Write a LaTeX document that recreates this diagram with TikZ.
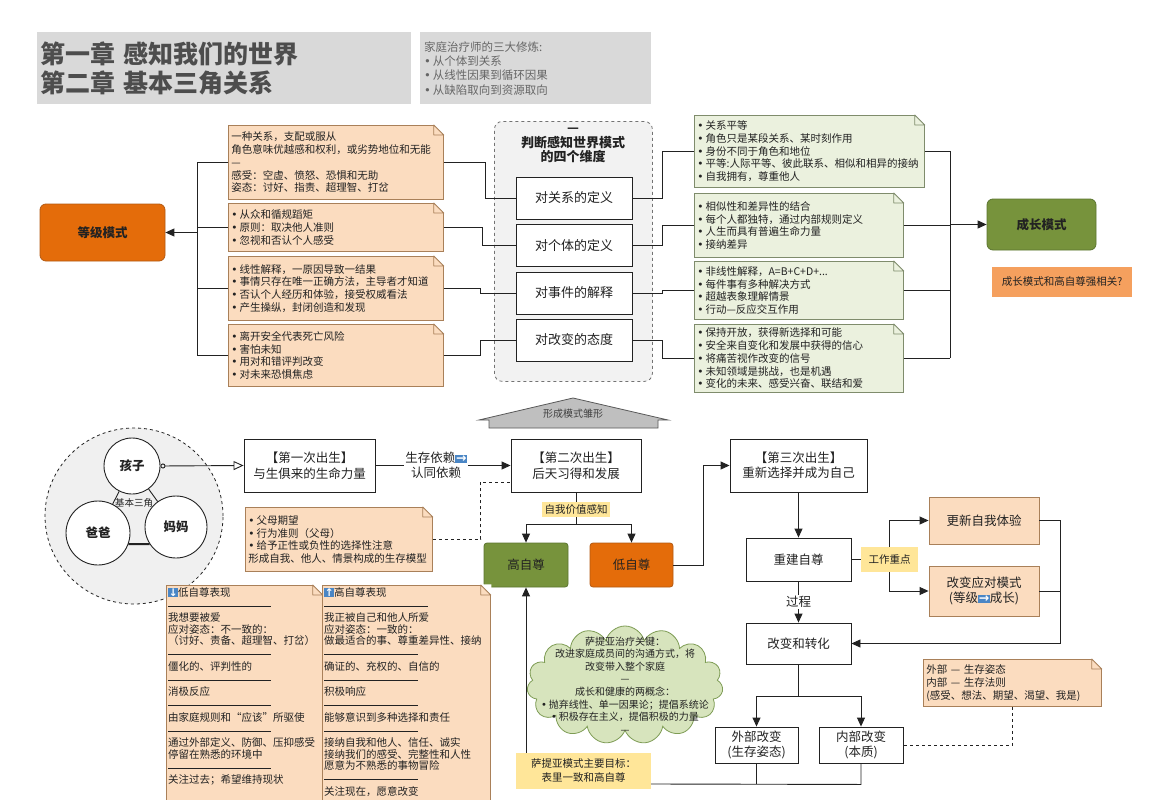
\documentclass[tikz,border=0pt]{standalone}
\usepackage{fontspec}
\setmainfont{Noto Sans CJK SC}
\newfontfamily\symfont{DejaVu Sans}
\usetikzlibrary{arrows.meta,positioning,shapes.geometric,shapes.symbols}

\definecolor{notefill}{HTML}{FBDCBF}
\definecolor{notedraw}{HTML}{A98059}
\definecolor{gnotefill}{HTML}{EBF1DE}
\definecolor{gnotedraw}{HTML}{7F8C6C}
\definecolor{rankorange}{HTML}{E46C0A}
\definecolor{rankdraw}{HTML}{B35A12}
\definecolor{growgreen}{HTML}{77933C}
\definecolor{growdraw}{HTML}{5B7530}
\definecolor{hintorange}{HTML}{F5A05E}
\definecolor{tagyellow}{HTML}{FFE699}
\definecolor{headgray}{HTML}{D9D9D9}
\definecolor{headtext}{HTML}{4D4D4D}
\definecolor{framegray}{HTML}{F2F2F2}
\definecolor{roofgray}{HTML}{BFBFBF}
\definecolor{cloudfill}{HTML}{D7E4BD}
\definecolor{clouddraw}{HTML}{7E9C55}
\definecolor{iconblue}{HTML}{4A86C5}
\definecolor{ink}{HTML}{222222}

\newcommand{\iconarrow}[1]{{\setlength{\fboxsep}{0.6pt}\colorbox{iconblue}{\textcolor{white}{\symfont\bfseries #1}}}}
\newcommand{\bul}{{\symfont\char"2022}\hspace{2pt}}
\newcommand{\sepline}[1]{\rule[3.5pt]{#1pt}{0.6pt}}
\newcommand{\notefont}{\fontsize{10.5}{12.7}\selectfont}
\newcommand{\foldnote}[2]{%
  \fill[white] ([xshift=-10.6pt,yshift=0.6pt]#1.north east) -- ([xshift=0.6pt,yshift=0.6pt]#1.north east) -- ([xshift=0.6pt,yshift=-10.6pt]#1.north east) -- cycle;
  \draw[#2, line width=0.8pt, line join=round] ([xshift=-10pt]#1.north east) -- ([yshift=-10pt]#1.north east) -- ([xshift=-10pt,yshift=-10pt]#1.north east) -- cycle;}

\begin{document}
\begin{tikzpicture}[
    x=1pt, y=-1pt,
    every node/.style={text=ink},
    conn/.style={draw=ink, line width=0.9pt},
    headbox/.style={fill=headgray, anchor=north west, align=left, inner xsep=3pt, text=headtext},
    notebox/.style={draw=notedraw, fill=notefill, line width=0.8pt, anchor=north west, align=left, inner xsep=3pt, inner ysep=2pt, font=\notefont},
    gnotebox/.style={notebox, draw=gnotedraw, fill=gnotefill},
    modebox/.style={rounded corners=6pt, line width=0.8pt, font=\fontsize{12.5}{15}\selectfont\bfseries},
    dimbox/.style={draw=ink, fill=white, line width=0.9pt, minimum width=116, minimum height=42, font=\fontsize{13}{15}\selectfont},
    stagebox/.style={draw=ink, fill=white, line width=0.9pt, align=center, font=\fontsize{12.5}{15.5}\selectfont},
    pbox/.style={stagebox, draw=notedraw, fill=notefill},
    tagbox/.style={fill=tagyellow, inner sep=2.5pt, font=\fontsize{10.5}{12}\selectfont},
    peoplenode/.style={circle, draw=ink, fill=white, line width=0.9pt, inner sep=0pt, font=\fontsize{12.5}{14}\selectfont\bfseries},
    >={Triangle[length=9pt,width=8pt]}
]
    \useasboundingbox (0,0) rectangle (1154,800);
    \fill[white] (0,0) rectangle (1154,800);

    \node[headbox, text width=368, minimum height=72, font=\fontsize{25}{29}\selectfont\bfseries] (title) at (37,32) {第一章 感知我们的世界\\第二章 基本三角关系};
    \node[headbox, text width=223, minimum height=72, inner xsep=4pt, text=black!60, font=\fontsize{11.5}{14.4}\selectfont] (trio) at (420,32) {家庭治疗师的三大修炼:\\\bul 从个体到关系\\\bul 从线性因果到循环因果\\\bul 从缺陷取向到资源取向};

    \node[modebox, fill=rankorange, draw=rankdraw, minimum width=125, minimum height=57] (rank) at (102.5,232.5) {等级模式};
    \node[modebox, fill=growgreen, draw=growdraw, minimum width=109, minimum height=51] (grow) at (1041.5,224.5) {成长模式};
    \node[fill=hintorange, minimum width=140, minimum height=30, font=\fontsize{10.5}{12}\selectfont] (hint) at (1062,282) {成长模式和高自尊强相关?};

    \node[draw=black!55, dashed, fill=framegray, rounded corners=8pt, line width=0.8pt, minimum width=158, minimum height=260, anchor=north west] (frame) at (494,121) {};
    \node[font=\fontsize{13}{14}\selectfont\bfseries] (framedash) at (573,130) {—};
    \node[align=center, font=\fontsize{13}{14}\selectfont\bfseries] (frametitle) at (573,150) {判断感知世界模式\\的四个维度};
    \node[dimbox] (rel) at (574,198) {对关系的定义};
    \node[dimbox] (ind) at (574,245.5) {对个体的定义};
    \node[dimbox] (evt) at (574,293) {对事件的解释};
    \node[dimbox] (chg) at (574,340) {对改变的态度};

    \node[notebox, text width=209, minimum height=74] (ln1) at (228,125) {一种关系，支配或服从\\角色意味优越感和权利，或劣势地位和无能\\—\\感受：空虚、愤怒、恐惧和无助\\姿态：讨好、指责、超理智、打岔};
    \foldnote{ln1}{notedraw}
    \node[notebox, text width=209, minimum height=48] (ln2) at (228,203) {\bul 从众和循规蹈矩\\\bul 原则：取决他人准则\\\bul 忽视和否认个人感受};
    \foldnote{ln2}{notedraw}
    \node[notebox, text width=209, minimum height=64] (ln3) at (228,256) {\bul 线性解释，一原因导致一结果\\\bul 事情只存在唯一正确方法，主导者才知道\\\bul 否认个人经历和体验，接受权威看法\\\bul 产生操纵，封闭创造和发现};
    \foldnote{ln3}{notedraw}
    \node[notebox, text width=209, minimum height=62] (ln4) at (228,324) {\bul 离开安全代表死亡风险\\\bul 害怕未知\\\bul 用对和错评判改变\\\bul 对未来恐惧焦虑};
    \foldnote{ln4}{notedraw}

    \node[gnotebox, text width=224, minimum height=72] (rn1) at (694,115) {\bul 关系平等\\\bul 角色只是某段关系、某时刻作用\\\bul 身份不同于角色和地位\\\bul 平等:人际平等、彼此联系、相似和相异的接纳\\\bul 自我拥有，尊重他人};
    \foldnote{rn1}{gnotedraw}
    \node[gnotebox, text width=203, minimum height=64] (rn2) at (694,193) {\bul 相似性和差异性的结合\\\bul 每个人都独特，通过内部规则定义\\\bul 人生而具有普遍生命力量\\\bul 接纳差异};
    \foldnote{rn2}{gnotedraw}
    \node[gnotebox, text width=203, minimum height=58] (rn3) at (694,261) {\bul 非线性解释，A=B+C+D+...\\\bul 每件事有多种解决方式\\\bul 超越表象理解情景\\\bul 行动—反应交互作用};
    \foldnote{rn3}{gnotedraw}
    \node[gnotebox, text width=203, minimum height=68] (rn4) at (694,324) {\bul 保持开放，获得新选择和可能\\\bul 安全来自变化和发展中获得的信心\\\bul 将痛苦视作改变的信号\\\bul 未知领域是挑战，也是机遇\\\bul 变化的未来、感受兴奋、联结和爱};
    \foldnote{rn4}{gnotedraw}

    \coordinate (lbtop) at (197,162);
    \coordinate (lbbot) at (197,355);
    \draw[conn] (lbtop) -- (lbbot);
    \foreach \n in {ln1,ln2,ln3,ln4}
        \draw[conn] (\n.west) -- (\n.west -| lbtop);
    \draw[conn,->] (rank.east -| lbtop) -- (rank.east);

    \draw[conn] (ln1.east) -- ++(42,0) |- (rel.west);
    \draw[conn] (ln2.east) -- ++(39,0) |- (ind.west);
    \draw[conn] (ln3.east) -- ++(37,0) |- (evt.west);
    \draw[conn] (ln4.east) -- ++(37,0) |- (chg.west);
    \draw[conn] (rel.east) -- ++(30,0) |- (rn1.west);
    \draw[conn] (ind.east) -- ++(30,0) |- (rn2.west);
    \draw[conn] (evt.east) -- ++(30,0) |- (rn3.west);
    \draw[conn] (chg.east) -- ++(30,0) |- (rn4.west);

    \coordinate (rbtop) at (950,151);
    \coordinate (rbbot) at (950,358);
    \draw[conn] (rbtop) -- (rbbot);
    \foreach \n in {rn1,rn2,rn3,rn4}
        \draw[conn] (\n.east) -- (\n.east -| rbtop);
    \draw[conn,->] (grow.west -| rbtop) -- (grow.west);

    \draw[draw=black!65, fill=roofgray, line width=0.8pt] (489,428) -- (489,420) -- (479,420) -- (573,398) -- (668,420) -- (658,420) -- (658,428) -- cycle;
    \node[text=black!75, font=\fontsize{10}{12}\selectfont] (seed) at (573,414) {形成模式雏形};

    \node[ellipse, draw=ink, dashed, fill=black!6, line width=0.8pt, minimum width=178, minimum height=176] (tri) at (134,516) {};
    \node[peoplenode, minimum size=56] (kid) at (132,466) {孩子};
    \node[peoplenode, minimum size=64] (dad) at (98,533) {爸爸};
    \node[peoplenode, minimum size=62] (mom) at (176,527) {妈妈};
    \draw[conn] (kid) -- (dad);
    \draw[conn] (kid) -- (mom);
    \draw[conn, line width=2pt] (dad.-20) -- (mom.213);
    \node[font=\fontsize{9.5}{11}\selectfont] (trilabel) at (134,503) {基本三角};

    \node[stagebox, minimum width=131, minimum height=53] (b1) at (309.5,465.5) {【第一次出生】\\与生俱来的生命力量};
    \node[stagebox, minimum width=130, minimum height=53] (b2) at (576,465.5) {【第二次出生】\\后天习得和发展};
    \node[stagebox, minimum width=137, minimum height=53] (b3) at (798.5,465.5) {【第三次出生】\\重新选择并成为自己};
    \draw[conn, {Circle[open,length=5pt,width=5pt]}-{Triangle[open,length=10pt,width=9pt]}] (kid.east) -- (b1.west);
    \draw[conn,->] (b1) -- node[pos=0.45, fill=white, inner sep=1pt, align=center, font=\fontsize{12.5}{15}\selectfont] (dep) {生存依赖\iconarrow{→}\\认同依赖} (b2);

    \node[notebox, text width=181, minimum height=64] (pn) at (245,507) {\bul 父母期望\\\bul 行为准则（父母）\\\bul 给予正性或负性的选择性注意\\形成自我、他人、情景构成的生存模型};
    \foldnote{pn}{notedraw}
    \draw[conn, dashed] (pn.east) -- ++(48,0) |- ([yshift=-16.5pt]b2.west);

    \node[tagbox] (sw) at (576,509.5) {自我价值感知};
    \coordinate (fork1) at (576,524);
    \node[modebox, rounded corners=3pt, fill=growgreen, draw=growdraw, minimum width=84, minimum height=44, font=\fontsize{12.5}{15}\selectfont] (hi) at (526,565) {高自尊};
    \node[modebox, rounded corners=3pt, fill=rankorange, draw=rankdraw, minimum width=83, minimum height=44, font=\fontsize{12.5}{15}\selectfont] (lo) at (631.5,565) {低自尊};
    \draw[conn] (b2) -- (sw);
    \draw[conn] (sw) -- (fork1);
    \draw[conn,->] (fork1) -| (hi);
    \draw[conn,->] (fork1) -| (lo);
    \draw[conn,->] (lo.east) -- ++(30,0) |- (b3.west);

    \node[stagebox, minimum width=105, minimum height=43] (rb) at (798.5,559.5) {重建自尊};
    \node[tagbox, minimum width=57, minimum height=25] (wk) at (889.5,559.5) {工作重点};
    \node[pbox, minimum width=110, minimum height=47] (up) at (984,520.5) {更新自我体验};
    \node[pbox, minimum width=110, minimum height=50] (cp) at (984,591) {改变应对模式\\(等级\iconarrow{→}成长)};
    \node[stagebox, minimum width=105, minimum height=41] (ct) at (798.5,643.5) {改变和转化};
    \draw[conn,->] (b3) -- (rb);
    \draw[conn] (rb) -- (wk);
    \draw[conn,->] (wk.north) |- (up);
    \draw[conn,->] (wk.south) |- (cp);
    \coordinate (rj) at (1060,643.5);
    \draw[conn] (up.east) -| (rj);
    \draw[conn] (cp.east) -- (cp.east -| rj);
    \draw[conn,->] (rj) -- (ct);
    \draw[conn,->] (rb) -- node[fill=white, inner sep=1.5pt, font=\fontsize{12.5}{15}\selectfont] (proc) {过程} (ct);

    \node[stagebox, minimum width=83, minimum height=36] (outer) at (756.5,745) {外部改变\\(生存姿态)};
    \node[stagebox, minimum width=84, minimum height=36] (inner) at (861,745) {内部改变\\(本质)};
    \coordinate (fork2) at (798.5,696);
    \draw[conn] (ct) -- (fork2);
    \draw[conn,->] (fork2) -| (outer);
    \draw[conn,->] (fork2) -| (inner);

    \node[notebox, text width=172, minimum height=47] (vis) at (923,659) {外部 — 生存姿态\\内部 — 生存法则\\(感受、想法、期望、渴望、我是)};
    \foldnote{vis}{notedraw}
    \draw[conn, dashed] (vis.south) |- (inner.east);

    \node[tagbox, minimum width=135, minimum height=36, align=center, font=\fontsize{10.5}{14}\selectfont] (goal) at (583.5,771) {萨提亚模式主要目标：\\表里一致和高自尊};
    \draw[conn] (inner.south) -- ++(0,21) -- ([yshift=-13pt]goal.east);
    \draw[conn] (outer.south) -- ++(0,21);
    \draw[conn,->] (goal.north -| hi) -- (hi);

    \node[cloud, cloud puffs=15, cloud ignores aspect, draw=clouddraw, fill=cloudfill, line width=0.8pt, minimum width=196, minimum height=118] (cl) at (625,685) {};
    \node[align=center, font=\fontsize{10}{12.6}\selectfont] (cltext) at (cl.center) {萨提亚治疗关键：\\改进家庭成员间的沟通方式，将\\改变带入整个家庭\\—\\成长和健康的两概念：\\\bul 抛弃线性、单一因果论；提倡系统论\\\bul 积极存在主义，提倡积极的力量\\—};

    \node[notebox, text width=150, minimum height=216] (lowshow) at (166,585) {};
    \foldnote{lowshow}{notedraw}
    \node[notebox, text width=162, minimum height=216] (highshow) at (322,585) {};
    \foldnote{highshow}{notedraw}
    \node[anchor=north west, align=left, inner sep=0pt, font=\fontsize{10.5}{11.5}\selectfont] (lowtext) at (168,587) {\iconarrow{↓}低自尊表现\\[2.5pt]
        \sepline{103}\\
        我想要被爱\\
        应对姿态：不一致的：\\
        （讨好、责备、超理智、打岔）\\[2.5pt]
        \sepline{103}\\
        僵化的、评判性的\\[2.5pt]
        \sepline{103}\\
        消极反应\\[2.5pt]
        \sepline{103}\\
        由家庭规则和“应该”所驱使\\[2.5pt]
        \sepline{103}\\
        通过外部定义、防御、压抑感受\\
        停留在熟悉的环境中\\[2.5pt]
        \sepline{103}\\
        关注过去；希望维持现状};
    \node[anchor=north west, align=left, inner sep=0pt, font=\fontsize{10.5}{11.5}\selectfont] (hightext) at (324,587) {\iconarrow{↑}高自尊表现\\[2.5pt]
        \sepline{104}\\
        我正被自己和他人所爱\\
        应对姿态：一致的：\\
        做最适合的事、尊重差异性、接纳\\[2.5pt]
        \sepline{94}\\
        确证的、充权的、自信的\\[2.5pt]
        \sepline{94}\\
        积极响应\\[2.5pt]
        \sepline{94}\\
        能够意识到多种选择和责任\\[2.5pt]
        \sepline{94}\\
        接纳自我和他人、信任、诚实\\
        接纳我们的感受、完整性和人性\\
        愿意为不熟悉的事物冒险\\[2.5pt]
        \sepline{94}\\
        关注现在，愿意改变};
\end{tikzpicture}
\end{document}
